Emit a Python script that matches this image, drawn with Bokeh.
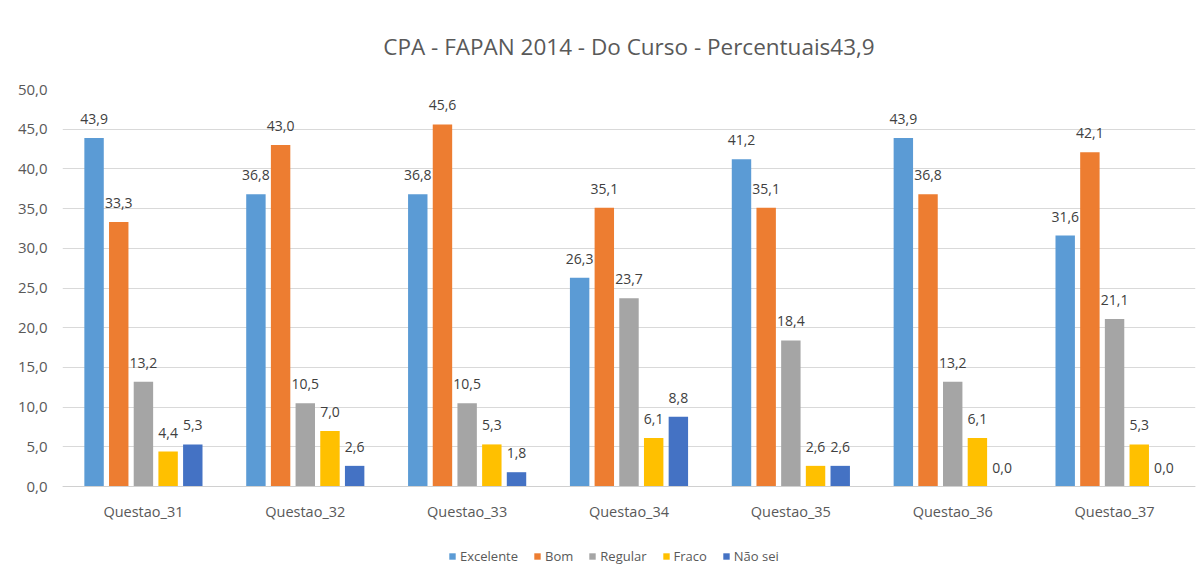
from bokeh.plotting import figure
from bokeh.models import (FactorRange, Range1d, FixedTicker, Legend, LegendItem,
                          Title, ColumnDataSource)
from bokeh.transform import dodge
from bokeh.core.properties import value
from bokeh.embed import file_html
from bokeh.resources import INLINE

categories = ["Questao_31", "Questao_32", "Questao_33", "Questao_34",
              "Questao_35", "Questao_36", "Questao_37"]
series_names = ["Excelente", "Bom", "Regular", "Fraco", "Não sei"]
excelente = [43.9, 36.8, 36.8, 26.3, 41.2, 43.9, 31.6]
bom = [33.3, 43.0, 45.6, 35.1, 35.1, 36.8, 42.1]
regular = [13.2, 10.5, 10.5, 23.7, 18.4, 13.2, 21.1]
fraco = [4.4, 7.0, 5.3, 6.1, 2.6, 6.1, 5.3]
nao_sei = [5.3, 2.6, 1.8, 8.8, 2.6, 0.0, 0.0]
y_ticks = [0, 5, 10, 15, 20, 25, 30, 35, 40, 45, 50]
title_text = "CPA - FAPAN 2014 - Do Curso - Percentuais43,9"

series_values = [excelente, bom, regular, fraco, nao_sei]
colors = ["#5B9BD5", "#ED7D31", "#A5A5A5", "#FFC000", "#4472C4"]
offsets = [-0.305, -0.1525, 0.0, 0.1525, 0.305]
FONT = value("Open Sans")

# frame runs from y=89 to y=575 px; 0..50 must occupy the top 397 px of it,
# the room under 0 holds the category labels and the legend
Y_MAX = 50
Y_MIN = -(Y_MAX * 486 / 397 - Y_MAX)

p = figure(x_range=FactorRange(factors=categories), y_range=Range1d(Y_MIN, Y_MAX),
           width=1204, height=581, output_backend="svg", toolbar_location=None,
           title=None, min_border_left=62, min_border_right=9,
           min_border_top=89, min_border_bottom=6)
p.outline_line_color = None
p.background_fill_color = "white"
p.border_fill_color = "white"

def fmt(v):
    return ("%.1f" % v).replace(".", ",")

items = []
for name, vals, col, off in zip(series_names, series_values, colors, offsets):
    src = ColumnDataSource(dict(cat=categories, val=vals, lbl=[fmt(v) for v in vals]))
    r = p.vbar(x=dodge("cat", off, range=p.x_range), top="val", bottom=0, width=0.12,
               source=src, fill_color=col, line_color=None)
    p.text(x=dodge("cat", off, range=p.x_range), y="val", text="lbl", source=src,
           text_align="center", text_baseline="middle", y_offset=-19,
           text_font=FONT, text_font_size="14px", text_color="#404040")
    items.append(LegendItem(label=name, renderers=[r]))

# axes
p.yaxis.ticker = FixedTicker(ticks=y_ticks)
p.yaxis.major_label_overrides = {t: fmt(t) for t in y_ticks}
p.yaxis.axis_line_color = None
p.yaxis.major_tick_line_color = None
p.yaxis.minor_tick_line_color = None
p.yaxis.major_label_standoff = 9
p.yaxis.major_label_text_font = "Open Sans"
p.yaxis.major_label_text_font_size = "15px"
p.yaxis.major_label_text_color = "#595959"

p.xaxis.fixed_location = 0
p.xaxis.axis_line_color = "#d0d0d0"
p.xaxis.axis_line_width = 1
p.xaxis.major_tick_line_color = None
p.xaxis.minor_tick_line_color = None
p.xaxis.major_label_standoff = 9
p.xaxis.major_label_text_font = "Open Sans"
p.xaxis.major_label_text_font_size = "14.5px"
p.xaxis.major_label_text_color = "#595959"

p.xgrid.grid_line_color = None
p.ygrid.grid_line_color = "#d9d9d9"
p.ygrid.ticker = FixedTicker(ticks=y_ticks)

# title (spacer closest to frame, then the real title)
p.add_layout(Title(text=" ", text_font_size="10px"), "above")
p.add_layout(Title(text=title_text, align="center", text_font="Open Sans",
                   text_font_size="22.5px", text_font_style="normal",
                   text_color="#595959"), "above")

# legend inside the lower part of the frame, under the category labels
legend = Legend(items=items, orientation="horizontal", location=(386, 10),
                glyph_width=8, glyph_height=8, label_standoff=4, spacing=15,
                padding=0, margin=0, border_line_color=None,
                label_text_font="Open Sans", label_text_font_size="13px",
                label_text_color="#595959", background_fill_alpha=0)
p.add_layout(legend)

open("out.html", "w").write(file_html(p, INLINE))
